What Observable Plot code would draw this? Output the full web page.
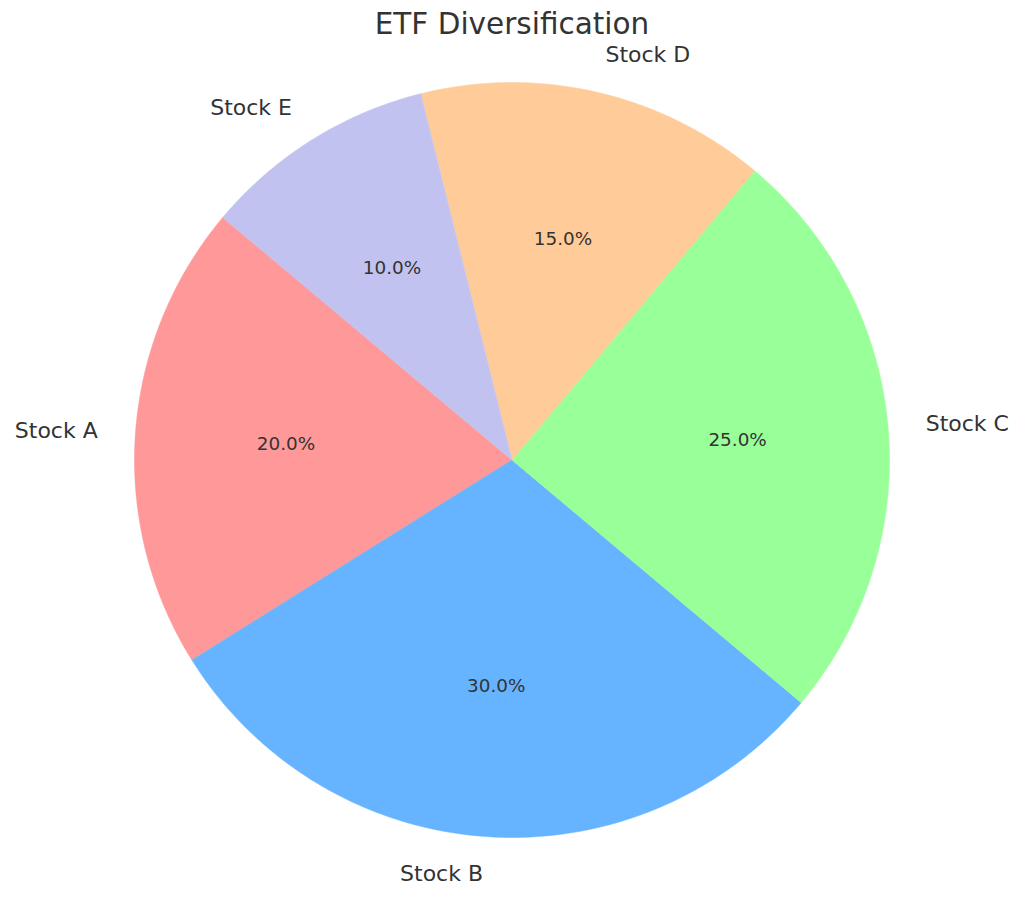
<!DOCTYPE html>
<html>
<head>
<meta charset="utf-8">
<script src="https://cdn.jsdelivr.net/npm/d3@7"></script>
<script src="https://cdn.jsdelivr.net/npm/@observablehq/plot@0.6"></script>
<style>
  body { margin: 0; background: #fff; }
  #wrap { position: relative; width: 1024px; height: 899px; }
  #title { position: absolute; top: 10px; left: 0; width: 1024px; text-align: center;
           font-family: "DejaVu Sans", sans-serif; font-size: 29.5px; line-height: 29px; color: #333333; }
</style>
</head>
<body>
<div id="wrap">
  <div id="title">ETF Diversification</div>
</div>
<script>
const labels = ["Stock A", "Stock B", "Stock C", "Stock D", "Stock E"];
const values = [20, 30, 25, 15, 10];
const colors = ["#ff9999", "#66b3ff", "#99ff99", "#ffcc99", "#c2c2f0"];
const startAngle = 140; // degrees, counter-clockwise from +x

const total = d3.sum(values);
let acc = startAngle;
const slices = labels.map((name, i) => {
  const a0 = acc;
  const a1 = acc + values[i] / total * 360;
  acc = a1;
  return { name, value: values[i], color: colors[i], a0, a1, mid: (a0 + a1) / 2 };
});

const rad = d => d * Math.PI / 180;
function wedge(s) {
  const pts = [{ x: 0, y: 0 }];
  const n = Math.max(2, Math.ceil((s.a1 - s.a0) / 0.5));
  for (let k = 0; k <= n; k++) {
    const a = rad(s.a0 + (s.a1 - s.a0) * k / n);
    pts.push({ x: Math.cos(a), y: Math.sin(a) });
  }
  return pts;
}

const labelData = slices.map(s => {
  const a = rad(s.mid);
  return { name: s.name, x: 1.1 * Math.cos(a), y: 1.1 * Math.sin(a) };
});
const pctData = slices.map(s => {
  const a = rad(s.mid);
  return { text: (s.value / total * 100).toFixed(1) + "%", x: 0.6 * Math.cos(a), y: 0.6 * Math.sin(a) };
});

const marks = slices.map(s => Plot.line(wedge(s), {
  x: "x", y: "y", fill: s.color, stroke: s.color, strokeWidth: 0.5, curve: "linear-closed"
}));
marks.push(Plot.text(labelData.filter(d => d.x >= 0), {
  x: "x", y: "y", text: "name", textAnchor: "start", lineAnchor: "middle",
  fontSize: 22, fill: "#333333"
}));
marks.push(Plot.text(labelData.filter(d => d.x < 0), {
  x: "x", y: "y", text: "name", textAnchor: "end", lineAnchor: "middle",
  fontSize: 22, fill: "#333333"
}));
marks.push(Plot.text(pctData, {
  x: "x", y: "y", text: "text", textAnchor: "middle", lineAnchor: "middle",
  fontSize: 18.4, fill: "#333333"
}));

const chart = Plot.plot({
  width: 1024,
  height: 899,
  margin: 0,
  style: { fontFamily: "DejaVu Sans, sans-serif", background: "white" },
  x: { domain: [-1, 1], range: [134, 889], axis: null },
  y: { domain: [-1, 1], range: [837, 82], axis: null },
  marks
});
chart.style.position = "absolute";
chart.style.top = "0";
chart.style.left = "0";
document.getElementById("wrap").insertBefore(chart, document.getElementById("title"));
</script>
</body>
</html>
